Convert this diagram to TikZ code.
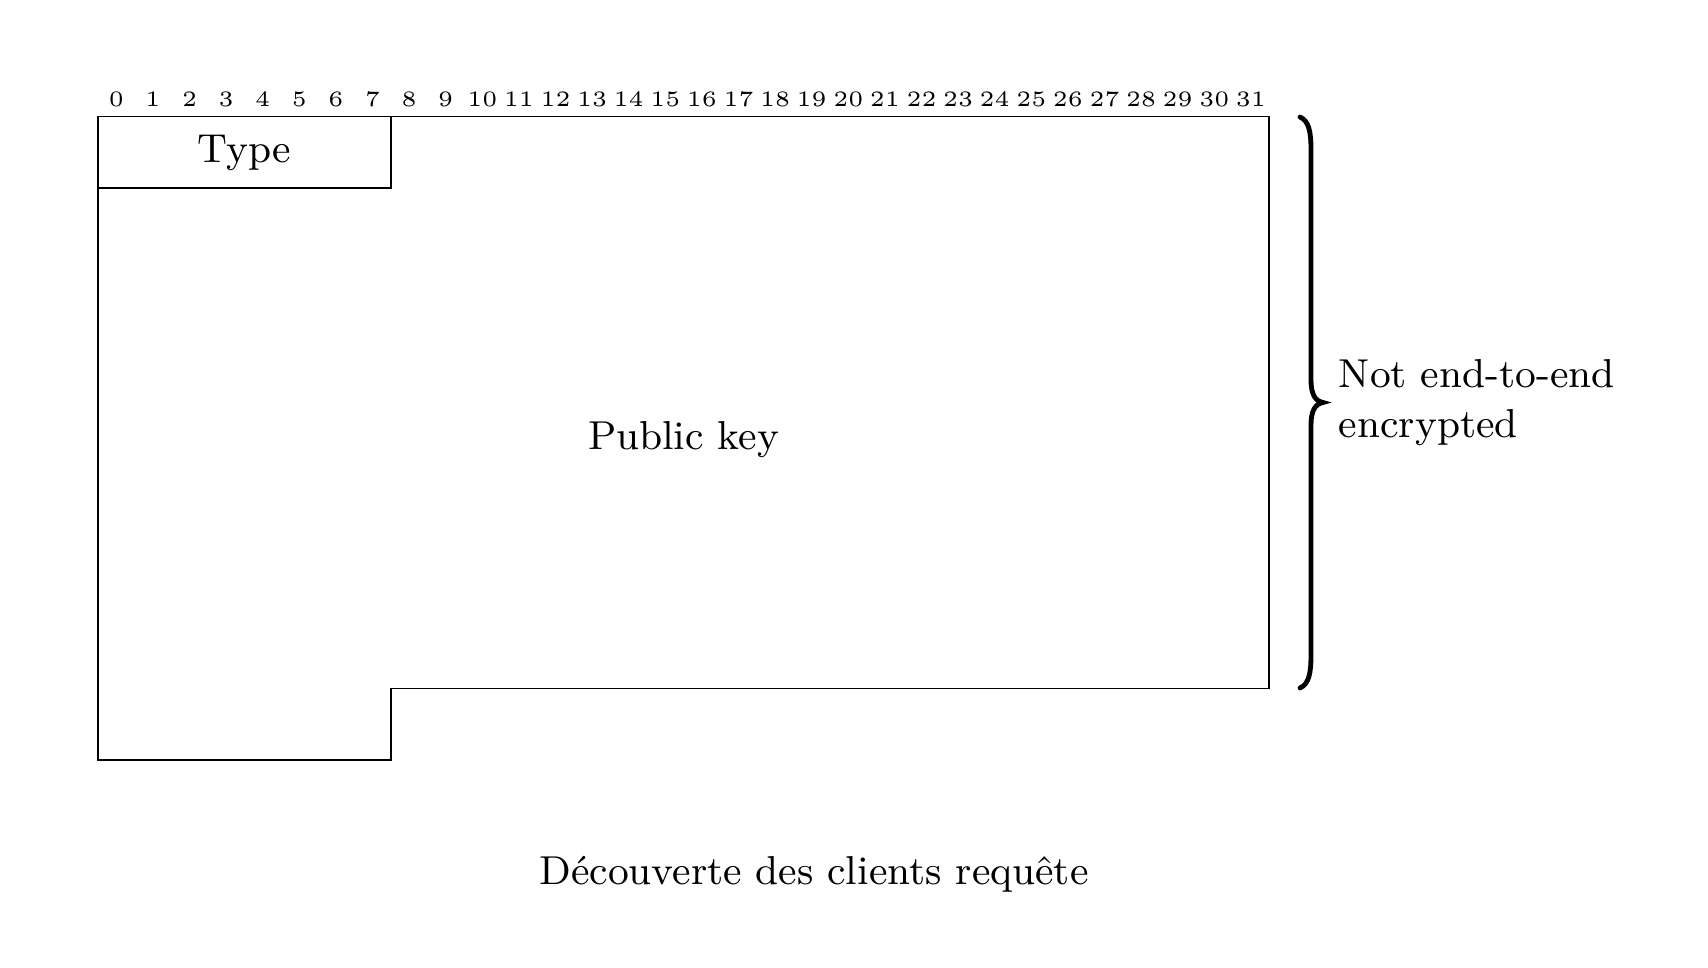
\documentclass[tikz,border=0pt]{standalone}
\usepackage{fontspec}
\tikzset{
  field/.style={line width=0.4pt},
  bitlabel/.style={font=\tiny, inner sep=0pt},
  fieldtext/.style={inner sep=0pt, font=\fontsize{9.18}{11.4}\selectfont},
  bracepath/.style={line width=1.1pt, line cap=round},
}
\begin{document}
\begin{tikzpicture}[x=0.22727pt,y=-0.22727pt]
\useasboundingbox (0,0) rectangle (1708,968);
% bit numbers
\foreach \i in {0,...,31}
  \node[bitlabel] (b\i) at ({98+36.6*(\i+0.5)},99) {\i};
% fields
\draw[field] (98,116.6) rectangle (390.7,188.3);
\draw[field] (390.7,116.6) -- (1269,116.6) -- (1269,688.5) -- (390.7,688.5)
  -- (390.7,760) -- (98,760) -- (98,188.3);
\node[fieldtext] (type) at (244.3,152.5) {Type};
\node[fieldtext] (pk) at (683.5,439.5) {Public key};
% brace
\coordinate (btop) at (1300,117);
\coordinate (btip) at (1323,402.5);
\coordinate (bbot) at (1300,688);
\draw[bracepath] (btop) .. controls (1309,121) and (1311,132) .. (1311,150)
  -- (1311,380) .. controls (1311,394) and (1315,401) .. (btip)
  .. controls (1315,404) and (1311,411) .. (1311,425)
  -- (1311,655) .. controls (1311,673) and (1309,684) .. (bbot);
\node[anchor=west, align=left, inner sep=0pt, font=\fontsize{9.18}{11.4}\selectfont] (enc) at (1338,403) {Not end-to-end\\encrypted};
% caption
\node[fieldtext] (cap) at (814,874) {Découverte des clients requête};
\end{tikzpicture}
\end{document}
